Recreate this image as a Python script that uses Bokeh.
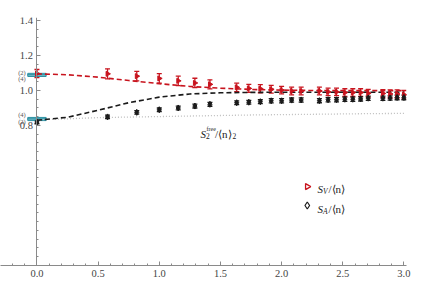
import numpy as np
from bokeh.plotting import figure
from bokeh.models import (ColumnDataSource, Whisker, SingleIntervalTicker, FixedTicker,
                          Label, Range1d, TeeHead, PrintfTickFormatter)
from bokeh.embed import file_html
from bokeh.resources import INLINE

# ---- data ----
q = [0.0, 0.577, 0.816, 1.0, 1.155, 1.291, 1.414, 1.633, 1.732, 1.826, 1.915, 2.0, 2.082,
     2.160, 2.309, 2.380, 2.449, 2.517, 2.582, 2.646, 2.708, 2.828, 2.887, 2.944, 3.0]
sv = [1.097, 1.095, 1.082, 1.069, 1.055, 1.043, 1.035, 1.018, 1.012, 1.010, 1.007, 1.002, 0.997,
      0.997, 0.997, 0.992, 0.992, 0.988, 0.988, 0.988, 0.984, 0.983, 0.980, 0.980, 0.976]
sv_err = [0.023, 0.029, 0.027, 0.027, 0.027, 0.027, 0.026, 0.024, 0.023, 0.023, 0.022, 0.021, 0.022,
          0.022, 0.022, 0.021, 0.021, 0.022, 0.022, 0.022, 0.022, 0.022, 0.023, 0.023, 0.024]
sa = [0.820, 0.849, 0.875, 0.890, 0.900, 0.911, 0.921, 0.930, 0.933, 0.936, 0.941, 0.941, 0.945,
      0.946, 0.942, 0.947, 0.947, 0.950, 0.950, 0.952, 0.956, 0.956, 0.957, 0.960, 0.960]
sa_err = [0.010, 0.010, 0.010, 0.010, 0.011, 0.011, 0.011, 0.011, 0.011, 0.011, 0.012, 0.012, 0.012,
          0.012, 0.012, 0.012, 0.012, 0.012, 0.012, 0.012, 0.012, 0.012, 0.012, 0.013, 0.013]

curve_q = [0.0, 0.25, 0.5, 0.75, 1.0, 1.25, 1.5, 1.75, 2.0, 2.25, 2.5, 2.75, 3.0]
sv_curve = [1.095, 1.090, 1.076, 1.057, 1.039, 1.023, 1.013, 1.006, 1.002, 1.000, 0.999, 0.999, 0.999]
sa_curve = [0.830, 0.847, 0.887, 0.930, 0.962, 0.980, 0.987, 0.989, 0.990, 0.990, 0.990, 0.990, 0.990]
free_curve = [0.832, 0.838, 0.845, 0.848, 0.851, 0.854, 0.857, 0.860, 0.862, 0.864, 0.866, 0.868, 0.869]

# q = 0 reference bands (orders (2) and (4))
band_order = ["(2)", "(4)", "(4)", "(2)"]
band_center = [1.093, 1.085, 0.841, 0.833]
band_half = [0.005, 0.005, 0.005, 0.005]
band_label_y = [1.105, 1.070, 0.863, 0.825]

y_major = [0.8, 1.0, 1.2, 1.4]

RED = "#c8141e"
BLACK = "#1a1a1a"
TEAL = "#2a8fa2"
TEAL_FILL = "#7cc3cf"
SERIF = "Liberation Serif"

p = figure(width=436, height=289, x_range=Range1d(-0.298, 3.021), y_range=Range1d(0, 1.417),
           output_backend="svg", toolbar_location=None,
           min_border_left=0, min_border_right=30, min_border_top=17, min_border_bottom=24)
p.outline_line_color = None
p.grid.visible = False
p.background_fill_color = "white"

# axes
p.xaxis.ticker = SingleIntervalTicker(interval=0.5, num_minor_ticks=5)
p.yaxis.ticker = FixedTicker(ticks=y_major, minor_ticks=[round(0.05 * i, 2) for i in range(0, 29)])
p.xaxis.formatter = PrintfTickFormatter(format="%.1f")
p.yaxis.formatter = PrintfTickFormatter(format="%.1f")
p.yaxis.fixed_location = 0
for ax in (p.xaxis, p.yaxis):
    ax.axis_line_color = "#8a8a8a"
    ax.major_tick_line_color = "#8a8a8a"
    ax.minor_tick_line_color = "#8a8a8a"
    ax.major_tick_in = 4
    ax.major_tick_out = 0
    ax.minor_tick_in = 2
    ax.minor_tick_out = 0
    ax.major_label_text_font = SERIF
    ax.major_label_text_font_size = "10.5px"
    ax.major_label_text_color = "#444444"
    ax.major_label_standoff = 4

# bands at q = 0
bs = ColumnDataSource(dict(c=band_center, lo=[c - h for c, h in zip(band_center, band_half)],
                           hi=[c + h for c, h in zip(band_center, band_half)]))
p.quad(left=-0.075, right=0.075, bottom="lo", top="hi", source=bs, fill_color=TEAL_FILL,
       fill_alpha=0.6, line_color=TEAL, line_width=1)

# curves
p.line(curve_q, free_curve, line_color="#bdbdbd", line_width=1.3, line_dash="1 2")
p.line(curve_q, sv_curve, line_color=RED, line_width=1.6, line_dash="5 3")
p.line(curve_q, sa_curve, line_color=BLACK, line_width=1.6, line_dash="5 3")

# data with error bars
src_v = ColumnDataSource(dict(q=q, y=sv, lo=[a - b for a, b in zip(sv, sv_err)],
                              hi=[a + b for a, b in zip(sv, sv_err)]))
src_a = ColumnDataSource(dict(q=q, y=sa, lo=[a - b for a, b in zip(sa, sa_err)],
                              hi=[a + b for a, b in zip(sa, sa_err)]))
p.add_layout(Whisker(source=src_v, base="q", lower="lo", upper="hi", dimension="height",
                     line_color=RED, line_width=1.3,
                     upper_head=TeeHead(size=5, line_color=RED, line_width=1.3),
                     lower_head=TeeHead(size=5, line_color=RED, line_width=1.3)))
p.add_layout(Whisker(source=src_a, base="q", lower="lo", upper="hi", dimension="height",
                     line_color=BLACK, line_width=1.3,
                     upper_head=TeeHead(size=5, line_color=BLACK, line_width=1.3),
                     lower_head=TeeHead(size=5, line_color=BLACK, line_width=1.3)))
p.scatter("q", "y", source=src_v, marker="triangle", angle=-np.pi / 2, size=5,
          fill_color=RED, line_color=RED)
p.scatter("q", "y", source=src_a, marker="diamond", size=6, fill_color=BLACK, line_color=BLACK)


def piece(x, y, txt, dx=0, dy=0, size=11, style="italic", color="#222222"):
    p.add_layout(Label(x=x, y=y, text=txt, x_offset=dx, y_offset=dy, text_font=SERIF,
                       text_font_size=f"{size}px", text_font_style=style, text_color=color,
                       text_baseline="alphabetic", text_align="left"))


# band order labels
for ly_, lab in zip(band_label_y, band_order):
    p.add_layout(Label(x=-0.075, y=ly_, text=lab, x_offset=-2, text_font=SERIF,
                       text_font_size="6.5px", text_color="#555555", text_align="right",
                       text_baseline="middle"))

# S2^free/<n>2 label
lx, ly = 1.337, 0.753
piece(lx, ly, "S")
piece(lx, ly, "2", dx=5.5, dy=-2.5, size=7.5, style="normal")
piece(lx, ly, "free", dx=6, dy=5, size=6, style="normal")
piece(lx, ly, "/\u27e8n\u27e9", dx=14.5, style="normal")
piece(lx, ly, "2", dx=32, dy=-2.5, size=7.5, style="normal")

# legend
p.scatter([2.21], [0.451], marker="triangle", angle=-np.pi / 2, size=6, fill_color=None,
          line_color=RED, line_width=1.3)
p.scatter([2.21], [0.343], marker="diamond", size=7, fill_color=None, line_color=BLACK,
          line_width=1.2)
for yy, sub in ((0.438, "V"), (0.320, "A")):
    piece(2.293, yy, "S")
    piece(2.293, yy, sub, dx=5.5, dy=-2.5, size=7.5)
    piece(2.293, yy, "/\u27e8n\u27e9", dx=11, style="normal")

# x axis title q/q_T (outside the frame on the right)
piece(3.021, 0.0, "q/q", dx=5, dy=-2, size=11)
piece(3.021, 0.0, "T", dx=21.5, dy=-4.5, size=7.5)

open("out.html", "w").write(file_html(p, INLINE))
